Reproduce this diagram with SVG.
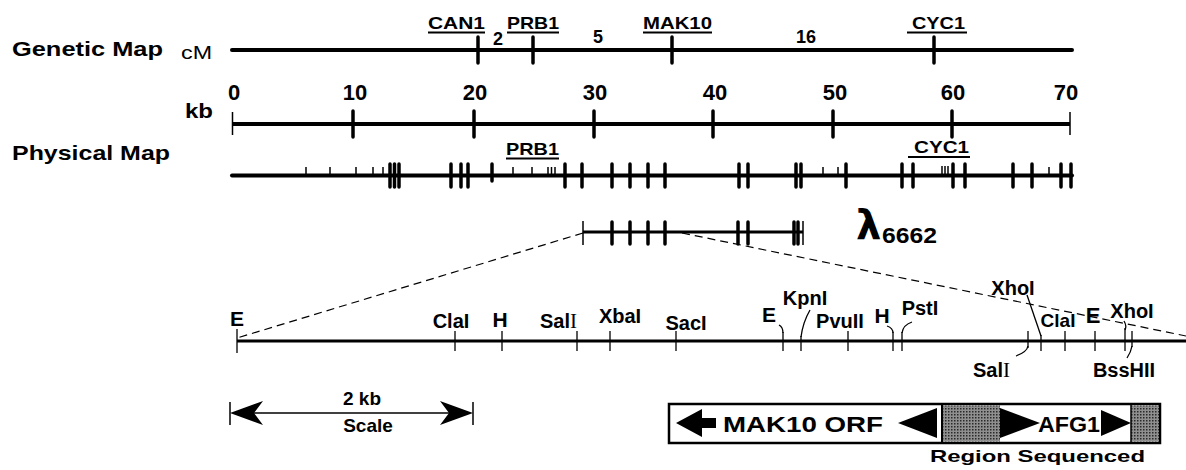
<svg xmlns="http://www.w3.org/2000/svg" width="1186" height="470" viewBox="0 0 1186 470">
<defs>
<style>
text{font-family:"Liberation Sans",Arial,sans-serif;font-weight:bold;fill:#000}
.reg{font-weight:normal}
.serif{font-family:"Liberation Serif","Times New Roman",serif;font-weight:normal}
.axis{stroke:#000;stroke-width:4;fill:none}
.big{stroke:#000;stroke-width:3.5;stroke-linecap:round}
.sm{stroke:#000;stroke-width:1.5}
.thin{stroke:#000;stroke-width:1.3;fill:none}
.ul{stroke:#000;stroke-width:2}
.dash{stroke:#000;stroke-width:1.2;stroke-dasharray:8 5;fill:none}
.lbl{font-size:20px}
.mid{text-anchor:middle}
.head{fill:#000}
</style>
<pattern id="dots" width="3" height="3" patternUnits="userSpaceOnUse">
<rect width="3" height="3" fill="#8f8f8f"/>
<rect width="1.5" height="1.5" fill="#2a2a2a"/>
</pattern>
</defs>

<g id="genetic-map">
<text x="12" y="56" font-size="21" textLength="151" lengthAdjust="spacingAndGlyphs">Genetic Map</text>
<text class="reg" x="181" y="59" font-size="18" textLength="31" lengthAdjust="spacingAndGlyphs">cM</text>
<line class="axis" x1="232" y1="50" x2="1072" y2="50" stroke-linecap="round"/>
<line class="big" x1="478" y1="37" x2="478" y2="63"/>
<line class="big" x1="533" y1="37" x2="533" y2="63"/>
<line class="big" x1="672" y1="37" x2="672" y2="63"/>
<line class="big" x1="934" y1="37" x2="934" y2="63"/>
<text x="428" y="29" font-size="17" textLength="57" lengthAdjust="spacingAndGlyphs">CAN1</text>
<line class="ul" x1="428" y1="32.5" x2="485" y2="32.5"/>
<text x="493" y="45" font-size="18">2</text>
<text x="593" y="43" font-size="18">5</text>
<text x="507" y="29" font-size="17" textLength="52" lengthAdjust="spacingAndGlyphs">PRB1</text>
<line class="ul" x1="507" y1="32.5" x2="559" y2="32.5"/>
<text x="643" y="29" font-size="17" textLength="69" lengthAdjust="spacingAndGlyphs">MAK10</text>
<line class="ul" x1="643" y1="32.5" x2="712" y2="32.5"/>
<text x="796" y="43" font-size="18">16</text>
<text x="912" y="29" font-size="17" textLength="53" lengthAdjust="spacingAndGlyphs">CYC1</text>
<line class="ul" x1="907" y1="32.5" x2="967" y2="32.5"/>
</g>

<g id="kb-scale">
<text x="185" y="118" font-size="21" textLength="28" lengthAdjust="spacingAndGlyphs">kb</text>
<line class="axis" x1="232" y1="124" x2="1070" y2="124"/>
<line class="sm" x1="232.5" y1="112" x2="232.5" y2="135"/>
<line class="sm" x1="1070" y1="112" x2="1070" y2="135"/>
<line class="big" x1="353" y1="111" x2="353" y2="137"/>
<line class="big" x1="474" y1="111" x2="474" y2="137"/>
<line class="big" x1="594" y1="111" x2="594" y2="137"/>
<line class="big" x1="713" y1="111" x2="713" y2="137"/>
<line class="big" x1="833" y1="111" x2="833" y2="137"/>
<line class="big" x1="952" y1="111" x2="952" y2="137"/>
<g font-size="22" text-anchor="middle">
<text x="234" y="100">0</text>
<text x="355" y="100">10</text>
<text x="475" y="100">20</text>
<text x="595" y="100">30</text>
<text x="715" y="100">40</text>
<text x="835" y="100">50</text>
<text x="953" y="100">60</text>
<text x="1066" y="100">70</text>
</g>
</g>

<g id="physical-map">
<text x="12" y="160" font-size="21" textLength="158" lengthAdjust="spacingAndGlyphs">Physical Map</text>
<line class="axis" x1="232" y1="175.5" x2="1072" y2="175.5" stroke-linecap="round"/>
<g class="sm">
<line x1="306" y1="167" x2="306" y2="175"/>
<line x1="330" y1="167" x2="330" y2="175"/>
<line x1="356" y1="167" x2="356" y2="175"/>
<line x1="373" y1="167" x2="373" y2="175"/>
<line x1="383" y1="167" x2="383" y2="175"/>
<line x1="513" y1="167" x2="513" y2="175"/>
<line x1="532" y1="167" x2="532" y2="175"/>
<line x1="548" y1="167" x2="548" y2="175"/>
<line x1="551.5" y1="167" x2="551.5" y2="175"/>
<line x1="555" y1="167" x2="555" y2="175"/>
<line x1="823" y1="167" x2="823" y2="175"/>
<line x1="838" y1="167" x2="838" y2="175"/>
<line x1="942" y1="166" x2="942" y2="175"/>
<line x1="945" y1="166" x2="945" y2="175"/>
<line x1="948" y1="166" x2="948" y2="175"/>
<line x1="1049" y1="167" x2="1049" y2="175"/>
</g>
<g class="big" stroke-width="3">
<line x1="390" y1="164" x2="390" y2="187"/>
<line x1="394.5" y1="164" x2="394.5" y2="187"/>
<line x1="399" y1="164" x2="399" y2="187"/>
<line x1="451" y1="164" x2="451" y2="187"/>
<line x1="461" y1="164" x2="461" y2="187"/>
<line x1="468" y1="164" x2="468" y2="187"/>
<line x1="492" y1="164" x2="492" y2="181"/>
<line x1="565" y1="164" x2="565" y2="187"/>
<line x1="582" y1="164" x2="582" y2="187"/>
<line x1="612" y1="164" x2="612" y2="187"/>
<line x1="630" y1="164" x2="630" y2="187"/>
<line x1="648" y1="164" x2="648" y2="187"/>
<line x1="665" y1="164" x2="665" y2="187"/>
<line x1="739" y1="164" x2="739" y2="187"/>
<line x1="748" y1="164" x2="748" y2="187"/>
<line x1="796" y1="164" x2="796" y2="187"/>
<line x1="801" y1="164" x2="801" y2="187"/>
<line x1="846" y1="164" x2="846" y2="187"/>
<line x1="902" y1="164" x2="902" y2="187"/>
<line x1="913" y1="164" x2="913" y2="187"/>
<line x1="953" y1="164" x2="953" y2="187"/>
<line x1="965" y1="164" x2="965" y2="187"/>
<line x1="1013" y1="164" x2="1013" y2="187"/>
<line x1="1032" y1="164" x2="1032" y2="187"/>
<line x1="1061" y1="164" x2="1061" y2="187"/>
<line x1="1071" y1="164" x2="1071" y2="187"/>
</g>
<text x="506" y="155" font-size="17" textLength="53" lengthAdjust="spacingAndGlyphs">PRB1</text>
<line class="ul" x1="506" y1="158.5" x2="559" y2="158.5"/>
<text x="914" y="153" font-size="17" textLength="55" lengthAdjust="spacingAndGlyphs">CYC1</text>
<line class="ul" x1="908" y1="157" x2="970" y2="157"/>
</g>

<g id="lambda-clone">
<line x1="583" y1="232" x2="803" y2="232" stroke="#000" stroke-width="3"/>
<line class="sm" x1="583" y1="221" x2="583" y2="245"/>
<line class="sm" x1="803" y1="221" x2="803" y2="245"/>
<g class="big" stroke-width="3">
<line x1="612" y1="222" x2="612" y2="244"/>
<line x1="630" y1="222" x2="630" y2="244"/>
<line x1="648" y1="222" x2="648" y2="244"/>
<line x1="665" y1="222" x2="665" y2="244"/>
<line x1="738" y1="222" x2="738" y2="244"/>
<line x1="748" y1="222" x2="748" y2="244"/>
<line x1="794" y1="222" x2="794" y2="244"/>
<line x1="798" y1="222" x2="798" y2="244"/>
</g>
<text x="856" y="239" font-size="40" style="font-family:'DejaVu Sans',sans-serif;font-weight:bold">λ</text>
<text x="882" y="243" font-size="22" textLength="55" lengthAdjust="spacingAndGlyphs">6662</text>
</g>

<g id="connectors">
<path class="dash" d="M583,233 L237,338"/>
<path class="dash" d="M682,233 L1186,336"/>
</g>

<g id="restriction-map">
<line x1="237" y1="341" x2="1186" y2="341" stroke="#000" stroke-width="3"/>
<g class="thin">
<line x1="237" y1="329" x2="237" y2="353"/>
<line x1="455" y1="331" x2="455" y2="351"/>
<line x1="502" y1="331" x2="502" y2="351"/>
<line x1="577" y1="331" x2="577" y2="351"/>
<line x1="610" y1="331" x2="610" y2="351"/>
<line x1="676" y1="331" x2="676" y2="351"/>
<line x1="783" y1="332" x2="783" y2="351"/>
<line x1="801" y1="336" x2="801" y2="351"/>
<line x1="848" y1="331" x2="848" y2="351"/>
<line x1="893" y1="332" x2="893" y2="351"/>
<line x1="902" y1="332" x2="902" y2="351"/>
<line x1="1028" y1="331" x2="1028" y2="348"/>
<line x1="1041" y1="335" x2="1041" y2="351"/>
<line x1="1065" y1="331" x2="1065" y2="351"/>
<line x1="1095" y1="331" x2="1095" y2="351"/>
<line x1="1125" y1="328" x2="1125" y2="351"/>
<line x1="1132" y1="331" x2="1132" y2="347"/>
<path d="M779,325 Q783,327 783,333"/>
<path d="M810,310 Q803,322 801,337"/>
<path d="M887,326 Q893,328 893,333"/>
<path d="M912,322 Q903,325 902,333"/>
<path d="M1027,295 L1041,336"/>
<path d="M1016,356 Q1027,352 1028,346"/>
<path d="M1124,321 Q1127,326 1125,330"/>
<path d="M1127,358 Q1131,352 1132,346"/>
</g>
<text x="237" y="326" font-size="21" class="mid">E</text>
<text x="451" y="328" class="lbl mid">ClaI</text>
<text x="500" y="327" font-size="21" class="mid">H</text>
<text x="540" y="328" class="lbl">Sal<tspan class="serif" font-size="21">I</tspan></text>
<text x="620" y="323" class="lbl mid">XbaI</text>
<text x="686" y="330" class="lbl mid">SacI</text>
<text x="769" y="322" font-size="21" class="mid">E</text>
<text x="805" y="305" class="lbl mid">KpnI</text>
<text x="840" y="328" class="lbl mid">PvuII</text>
<text x="882" y="323" font-size="21" class="mid">H</text>
<text x="920" y="315" class="lbl mid">PstI</text>
<text x="1013" y="295" class="lbl mid">XhoI</text>
<text x="1058" y="327" font-size="19" class="mid">ClaI</text>
<text x="1093" y="323" font-size="22" class="mid">E</text>
<text x="1132" y="318" class="lbl mid">XhoI</text>
<text x="973" y="377" class="lbl">Sal<tspan class="serif" font-size="21">I</tspan></text>
<text x="1124" y="377" class="lbl mid">BssHII</text>
</g>

<g id="scale-bar">
<line x1="230" y1="402" x2="230" y2="425" class="sm"/>
<line x1="473" y1="402" x2="473" y2="425" class="sm"/>
<line x1="250" y1="413" x2="453" y2="413" stroke="#000" stroke-width="1.6"/>
<path class="head" d="M230,413 L263,401 L254,413 L263,425 Z"/>
<path class="head" d="M473,413 L440,401 L449,413 L440,425 Z"/>
<text x="362" y="405" font-size="19" class="mid">2 kb</text>
<text x="368" y="432" font-size="19" class="mid">Scale</text>
</g>

<g id="orf-box">
<rect x="669" y="404" width="491" height="39" fill="#fff" stroke="#000" stroke-width="2.5"/>
<rect x="942" y="405.5" width="58" height="36" fill="url(#dots)"/>
<rect x="1131" y="405.5" width="28" height="36" fill="url(#dots)"/>
<line x1="942" y1="404" x2="942" y2="443" stroke="#000" stroke-width="2"/>
<line x1="1131" y1="404" x2="1131" y2="443" stroke="#000" stroke-width="1.5"/>
<path class="head" d="M676,423 L702,409 L702,418 L716,418 L716,428 L702,428 L702,437 Z"/>
<text x="723" y="432" font-size="22" textLength="160" lengthAdjust="spacingAndGlyphs">MAK10  ORF</text>
<path class="head" d="M898,423 L937,408 L937,438 Z"/>
<path class="head" d="M1000,408 L1040,423 L1000,438 Z"/>
<text x="1038" y="432" font-size="22" textLength="62" lengthAdjust="spacingAndGlyphs">AFG1</text>
<path class="head" d="M1101,410 L1131,423 L1101,436 Z"/>
<text x="930" y="462" font-size="17" textLength="215" lengthAdjust="spacingAndGlyphs">Region Sequenced</text>
</g>
</svg>
